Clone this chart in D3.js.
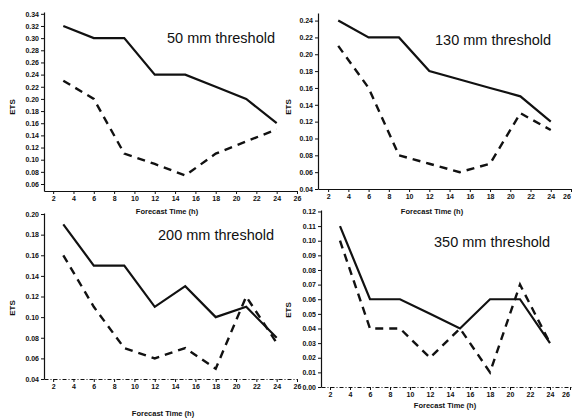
<!DOCTYPE html>
<html lang="en">
<head>
  <meta charset="UTF-8">
  <title>ETS by forecast time</title>
  <style>
    body { margin: 0; background: #fff; }
    text { font-family: "Liberation Sans", Arial, sans-serif; fill: #111; }
    .tick text { font-size: 7px; font-weight: bold; }
    .axis path, .axis line { stroke: #111; }
  </style>
</head>
<body>
  <svg id="chart" width="572" height="419"></svg>

  <script src="https://d3js.org/d3.v7.min.js"></script>
  <script>
    // forecast hours shared by all panels
    const hours = [3, 6, 9, 12, 15, 18, 21, 24];

    const ets50Solid  = [0.32, 0.30, 0.30, 0.24, 0.24, 0.22, 0.20, 0.16];
    const ets50Dashed = [0.23, 0.20, 0.11, 0.093, 0.074, 0.11, 0.13, 0.15];

    const ets130Solid  = [0.24, 0.22, 0.22, 0.18, 0.17, 0.16, 0.15, 0.12];
    const ets130Dashed = [0.21, 0.16, 0.08, 0.07, 0.06, 0.07, 0.13, 0.11];

    const ets200Solid  = [0.19, 0.15, 0.15, 0.11, 0.13, 0.10, 0.11, 0.08];
    const ets200Dashed = [0.16, 0.11, 0.07, 0.06, 0.07, 0.05, 0.12, 0.075];

    const ets350Solid  = [0.11, 0.06, 0.06, 0.05, 0.04, 0.06, 0.06, 0.03];
    const ets350Dashed = [0.10, 0.04, 0.04, 0.02, 0.04, 0.01, 0.07, 0.03];

    const xTicks = [2, 4, 6, 8, 10, 12, 14, 16, 18, 20, 22, 24, 26];
    const yTicks50  = [0.06, 0.08, 0.10, 0.12, 0.14, 0.16, 0.18, 0.20, 0.22, 0.24, 0.26, 0.28, 0.30, 0.32, 0.34];
    const yTicks130 = [0.04, 0.06, 0.08, 0.10, 0.12, 0.14, 0.16, 0.18, 0.20, 0.22, 0.24];
    const yTicks200 = [0.04, 0.06, 0.08, 0.10, 0.12, 0.14, 0.16, 0.18, 0.20];
    const yTicks350 = [0.00, 0.01, 0.02, 0.03, 0.04, 0.05, 0.06, 0.07, 0.08, 0.09, 0.10, 0.11, 0.12];

    const titles = ["50 mm threshold", "130 mm threshold", "200 mm threshold", "350 mm threshold"];

    const svg = d3.select("#chart");
    const svgWidth = 572;

    // one panel per threshold, placed where it sits on the scanned figure
    const panels = [
      { title: titles[0], solid: ets50Solid, dashed: ets50Dashed, yTicks: yTicks50,
        x: [44, 297], xDom: [1.1, 26], y: [191, 12], yDom: [0.0485, 0.343],
        titleX: 167, titleY: 43, etsX: 12, etsY: 107, ftX: 167, ftY: 214 },
      { title: titles[1], solid: ets130Solid, dashed: ets130Dashed, yTicks: yTicks130,
        x: [318, 571], xDom: [1, 26], y: [189, 13], yDom: [0.04, 0.249],
        titleX: 435, titleY: 45, etsX: 288, etsY: 107, ftX: 432, ftY: 214 },
      { title: titles[2], solid: ets200Solid, dashed: ets200Dashed, yTicks: yTicks200,
        x: [44, 297], xDom: [1.1, 26], y: [379, 213], yDom: [0.04, 0.201],
        titleX: 158, titleY: 240, etsX: 12, etsY: 308, ftX: 163, ftY: 416, dotted: true },
      { title: titles[3], solid: ets350Solid, dashed: ets350Dashed, yTicks: yTicks350,
        x: [321, 571], xDom: [1.1, 26.1], y: [387, 210], yDom: [0, 0.121],
        titleX: 434, titleY: 247, etsX: 288, etsY: 310, ftX: 445, ftY: 408, dotted: true }
    ];

    panels.forEach(function (p) {
      const xScale = d3.scaleLinear().domain(p.xDom).range(p.x);
      const yScale = d3.scaleLinear().domain(p.yDom).range(p.y);
      const g = svg.append("g");

      // x axis
      const xa = g.append("g")
        .attr("class", "axis")
        .attr("transform", `translate(0, ${p.y[0]})`)
        .call(d3.axisBottom(xScale).tickValues(xTicks).tickSize(3).tickPadding(2)
          .tickSizeOuter(0).tickFormat(d3.format("d")));
      xa.select(".domain").attr("stroke-width", 1.2)
        .attr("stroke-dasharray", p.dotted ? "4,2,1,2" : null);
      // labels at the page edge are pulled in so they stay whole
      xa.selectAll(".tick text")
        .filter(d => xScale(d) + 5 > svgWidth)
        .attr("text-anchor", "end")
        .attr("dx", "-0.1em");

      // y axis
      const ya = g.append("g")
        .attr("class", "axis")
        .attr("transform", `translate(${p.x[0]}, 0)`)
        .call(d3.axisLeft(yScale).tickValues(p.yTicks).tickSize(3).tickPadding(2)
          .tickSizeOuter(0).tickFormat(d3.format(".2f")));
      ya.select(".domain").attr("stroke-width", 1.2);

      const line = d3.line()
        .x((d, i) => xScale(hours[i]))
        .y(d => yScale(d));

      g.append("path")
        .datum(p.solid)
        .attr("d", line)
        .attr("fill", "none")
        .attr("stroke", "#111")
        .attr("stroke-width", 2.2);

      g.append("path")
        .datum(p.dashed)
        .attr("d", line)
        .attr("fill", "none")
        .attr("stroke", "#111")
        .attr("stroke-width", 2.4)
        .attr("stroke-dasharray", "8,6");

      g.append("text")
        .attr("x", p.titleX)
        .attr("y", p.titleY)
        .style("font-size", "14.5px")
        .text(p.title);

      g.append("text")
        .attr("transform", `translate(${p.etsX + 3}, ${p.etsY}) rotate(-90)`)
        .attr("text-anchor", "middle")
        .style("font-size", "8px")
        .style("font-weight", "bold")
        .text("ETS");

      g.append("text")
        .attr("x", p.ftX)
        .attr("y", p.ftY)
        .attr("text-anchor", "middle")
        .style("font-size", "7.5px")
        .style("font-weight", "bold")
        .text("Forecast Time (h)");
    });
  </script>
</body>
</html>
